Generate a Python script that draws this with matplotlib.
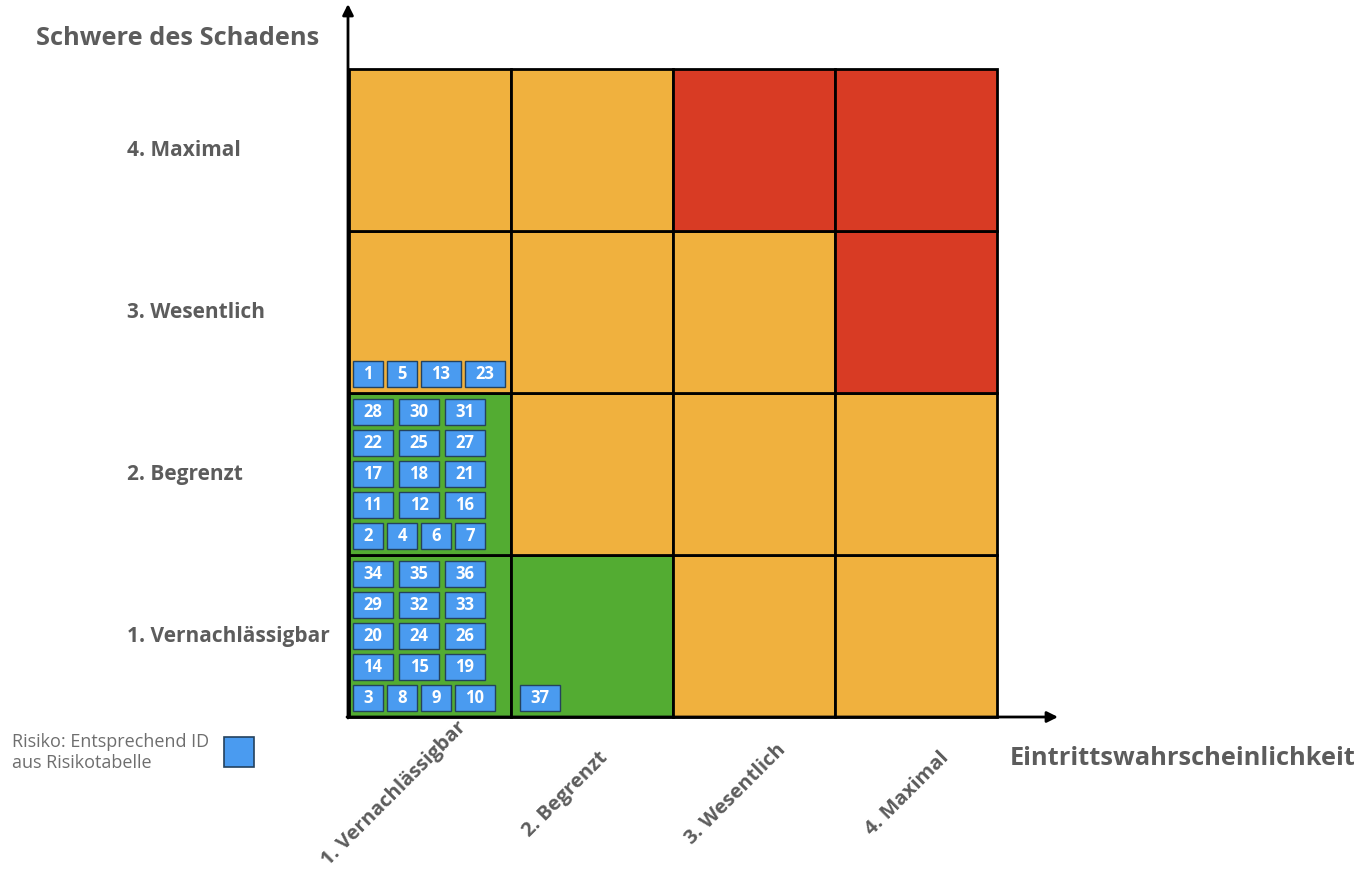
import matplotlib.pyplot as plt
from matplotlib.patches import Rectangle

plt.rcParams['font.family'] = ['Open Sans', 'DejaVu Sans']

# Risk matrix data
levels = ["1. Vernachlässigbar", "2. Begrenzt", "3. Wesentlich", "4. Maximal"]
# cell colours, rows from bottom (severity 1..4), columns = probability 1..4
cell_colors = [
    ["green", "green", "orange", "orange"],
    ["green", "orange", "orange", "orange"],
    ["orange", "orange", "orange", "red"],
    ["orange", "orange", "red", "red"],
]
# risk ids per cell (probability, severity), rows listed top to bottom
risks_p1_s1 = [[34, 35, 36], [29, 32, 33], [20, 24, 26], [14, 15, 19], [3, 8, 9, 10]]
risks_p1_s2 = [[28, 30, 31], [22, 25, 27], [17, 18, 21], [11, 12, 16], [2, 4, 6, 7]]
risks_p1_s3 = [[1, 5, 13, 23]]
risks_p2_s1 = [[37]]

palette = {"green": "#53ac32", "orange": "#f0b13e", "red": "#d83b24"}
blue = "#4a9bf0"
grey = "#5c5c5c"

W, H = 1372, 872
fig = plt.figure(figsize=(W / 100, H / 100), dpi=100)
x0, y0, cell = 349, 717, 162  # grid origin in px
ax = fig.add_axes([x0 / W, (H - y0) / H, 4 * cell / W, 4 * cell / H])
ax.set_xlim(0, 4)
ax.set_ylim(0, 4)
ax.axis("off")

px = 1 / cell  # one pixel in data units


def dx(p):
    return (p - x0) * px


def dy(p):
    return (y0 - p) * px


for r in range(4):
    for c in range(4):
        ax.add_patch(Rectangle((c, r), 1, 1, facecolor=palette[cell_colors[r][c]],
                               edgecolor="black", lw=2, clip_on=False))

# risk boxes
bh, pitch = 26 * px, 31 * px
for (c, r), rows in [((0, 0), risks_p1_s1), ((0, 1), risks_p1_s2),
                     ((0, 2), risks_p1_s3), ((1, 0), risks_p2_s1)]:
    for i, row in enumerate(reversed(rows)):
        y = r + 6 * px + i * pitch
        gap = (6 if len(row) <= 3 else 4) * px
        x = c + (4 if c == 0 else 9) * px
        for rid in row:
            bw = (30 if rid < 10 else 40) * px
            ax.add_patch(Rectangle((x, y), bw, bh, facecolor=blue,
                                   edgecolor="#24425e", lw=1))
            ax.text(x + bw / 2, y + bh / 2, str(rid), color="white", fontsize=12,
                    fontweight="bold", ha="center", va="center")
            x += bw + gap

# axes arrows
arrow = dict(arrowstyle="-|>", color="black", lw=2, mutation_scale=16, shrinkA=0, shrinkB=0)
ax.annotate("", xy=(dx(348), dy(4)), xytext=(dx(348), dy(718)), arrowprops=arrow,
            annotation_clip=False)
ax.annotate("", xy=(dx(1058), dy(717)), xytext=(dx(347), dy(717)), arrowprops=arrow,
            annotation_clip=False)

# labels
for i, lab in enumerate(levels):
    ax.text(dx(127), i + 0.5, lab, fontsize=15, fontweight="bold", color=grey,
            ha="left", va="center", clip_on=False)
    ax.text(i + 0.5 - (36 - 9 * i) * px, dy(794), lab, fontsize=14.5, fontweight="bold",
            color=grey, rotation=45, ha="center", va="center", clip_on=False)

ax.text(dx(36), dy(38), "Schwere des Schadens", fontsize=18.3, fontweight="bold",
        color=grey, ha="left", va="center", clip_on=False)
ax.text(dx(1010), dy(758), "Eintrittswahrscheinlichkeit", fontsize=18.3, fontweight="bold",
        color=grey, ha="left", va="center", clip_on=False)

# legend
ax.text(dx(12), dy(733), "Risiko: Entsprechend ID\naus Risikotabelle", fontsize=13,
        color="#6e6e6e", ha="left", va="top", linespacing=1.2, clip_on=False)
ax.add_patch(Rectangle((dx(224), dy(767)), 30 * px, 30 * px, facecolor=blue,
                       edgecolor="#24425e", lw=1.2, clip_on=False))

fig.savefig("out.png", dpi=100)
